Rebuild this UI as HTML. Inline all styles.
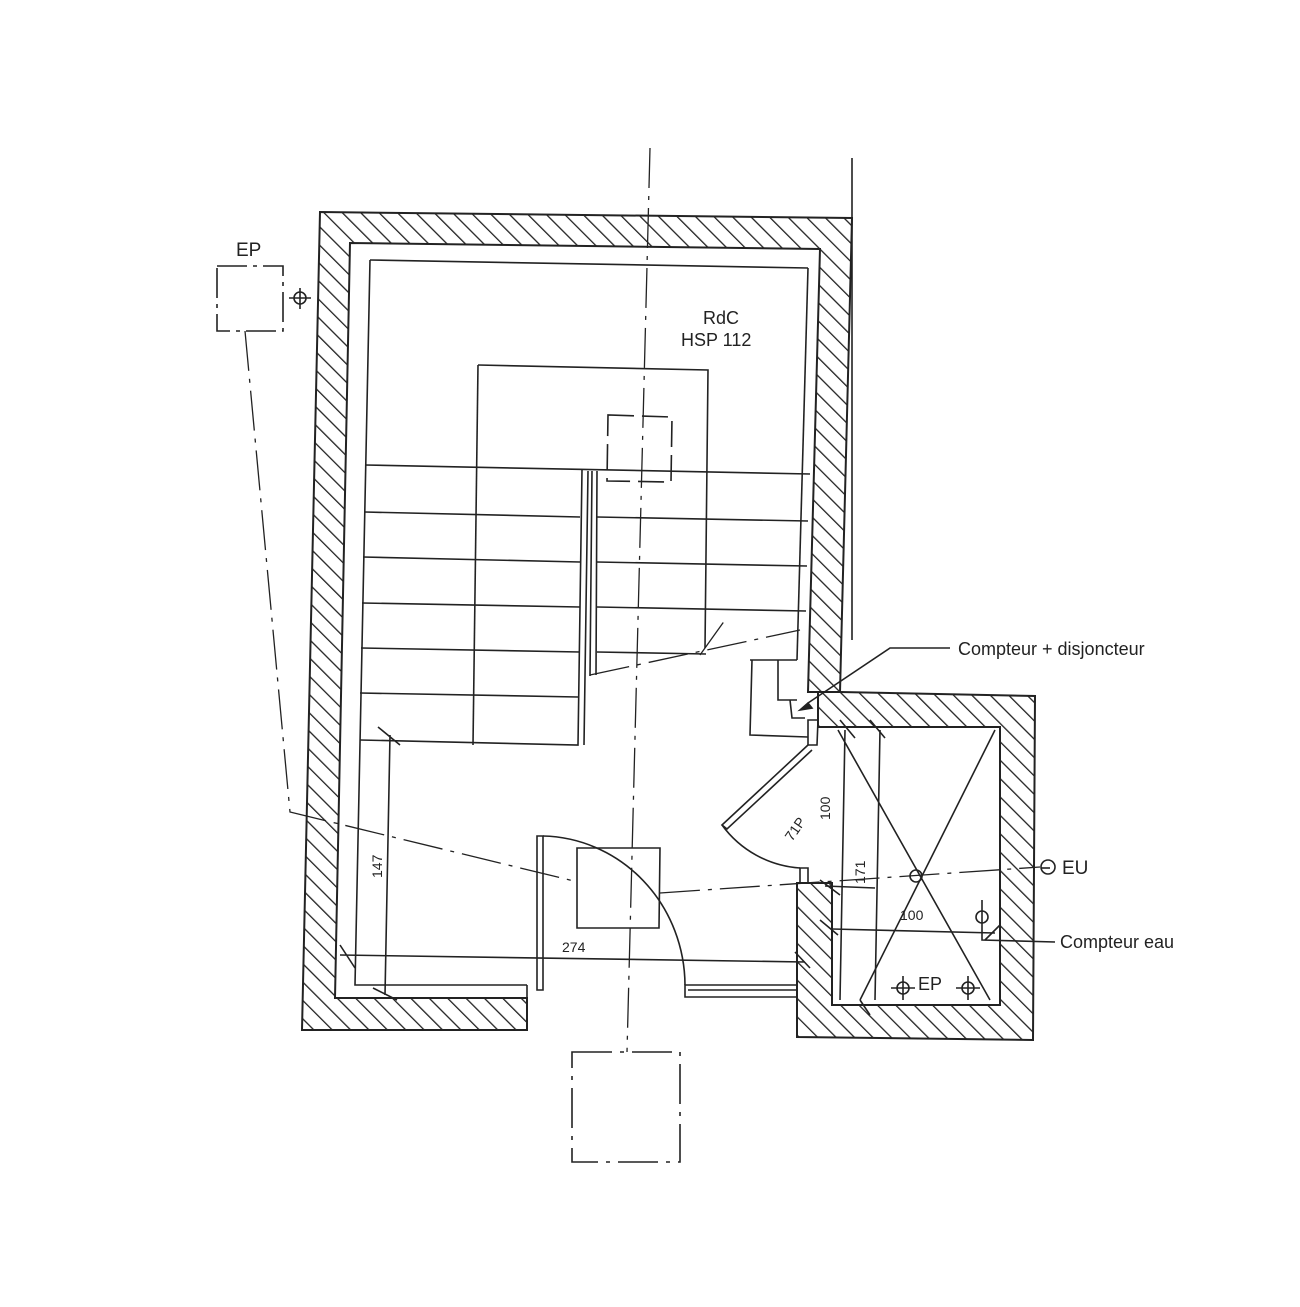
<!DOCTYPE html>
<html><head><meta charset="utf-8"><style>
html,body{margin:0;padding:0;background:#fff}
svg{display:block}
text{font-family:"Liberation Sans",Arial,sans-serif;fill:#222}
</style></head><body>
<svg width="1300" height="1307" viewBox="0 0 1300 1307" xmlns="http://www.w3.org/2000/svg">
<defs>
<pattern id="h" patternUnits="userSpaceOnUse" width="13" height="13" patternTransform="rotate(-45)">
<line x1="0" y1="0" x2="0" y2="13" stroke="#222" stroke-width="2.6"/>
</pattern>
</defs>
<g stroke="#222" stroke-width="1.6" fill="none">
<path d="M320,212 L852,218 L840,692 L808,692 L820,249 L350,243 L335,998 L527,998 L527,1030 L302,1030 Z" fill="url(#h)" stroke-width="2"/>
<path d="M840,692 L1035,696 L1033,1040 L797,1037 L797,883 L832,883 L832,1005 L1000,1005 L1000,727 L832,727 L818,727 L818,692 Z" fill="url(#h)" stroke-width="2"/>
<path d="M370,260 L808,268"/>
<path d="M370,260 L355,985 L527,985"/>
<path d="M808,268 L797,660"/>
<path d="M527,985 L527,998 M537,836 L543,836 L543,990 L537,990 Z"/>
<path d="M543,836 A145,150 0 0 1 685,985"/>
<path d="M685,985 L685,997 L797,997 M688,990 L797,990 M685,997 L685,985 L797,985"/>
<path d="M478,365 L708,370 L705,648"/>
<path d="M478,365 L473,745"/>
<path d="M365,465 L810,474"/>
<path d="M365,512 L580,517 M597,517 L808,521"/>
<path d="M363,557 L580,562 M597,562 L807,566"/>
<path d="M362,603 L580,607 M597,607 L806,611"/>
<path d="M361,648 L580,652 M597,652 L706,654"/>
<path d="M360,693 L578,697"/>
<path d="M360,740 L578,745 L582,470 M588,471 L584,745 M592,471 L590,676 M597,471 L596,675"/>
<path d="M750,660 L797,660 M752,660 L750,735 L808,737 M778,660 L778,700 L797,700 M790,700 L792,718 L805,718"/>
<path d="M808,720 L818,720 L817,745 L808,745 Z"/>
<path d="M808,745 L722,825 L727,829 L812,750"/>
<path d="M722,825 A105,105 0 0 0 800,868"/>
<path d="M800,868 L808,868 L808,883 L800,883 Z"/>
<path d="M838,730 L990,1000 M995,730 L860,1000"/>
<path d="M845,730 L840,1000 M880,730 L875,1000"/>
<circle cx="916" cy="876" r="6"/>
<circle cx="982" cy="917" r="6"/>
<path d="M982,900 L982,940 L1055,942"/>
<path d="M832,929 L995,933"/>
<path d="M825,886 L875,888"/>
<circle cx="1048" cy="867" r="7"/>
<circle cx="300" cy="298" r="6"/><path d="M300,288 L300,309 M289,298 L311,298"/>
<circle cx="903" cy="988" r="6"/><path d="M903,976 L903,1000 M891,988 L915,988"/>
<circle cx="968" cy="988" r="6"/><path d="M968,976 L968,1000 M956,988 L980,988"/>
<path d="M390,735 L385,995 M378,727 L400,745 M373,988 L397,1000"/>
<path d="M340,955 L805,962 M340,945 L355,968 M795,952 L810,968"/>
<path d="M820,880 L840,895 M820,920 L838,935 M860,1000 L870,1015 M840,720 L855,738 M870,720 L885,738 M985,940 L1000,925"/>
<path d="M950,648 L890,648 L808,703"/>
<path d="M808,703 L800,710 L812,708 Z" fill="#222"/>
<path d="M1050,868 L1041,868"/>
<path d="M852,158 L852,640"/>
<path d="M217,266 L283,266 L283,331 L217,331 Z" stroke-dasharray="30,6,4,6"/>
<path d="M608,415 L672,417 L671,482 L607,481 Z" stroke-dasharray="26,8"/>
<path d="M577,848 L660,848 L659,928 L577,928 Z"/>
<path d="M572,1052 L680,1052 L680,1162 L572,1162 Z" stroke-dasharray="40,8,4,8"/>
<g stroke-dasharray="40,8,4,8" stroke-width="1.3">
<path d="M650,148 L627,1052"/>
<path d="M245,331 L290,812 L578,882"/>
<path d="M660,893 L1040,867"/>
<path d="M590,675 L800,630"/>
<path d="M700,655 L725,620"/>
</g>
</g>
<text x="236" y="256" font-size="19">EP</text>
<text x="703" y="324" font-size="18">RdC</text>
<text x="681" y="346" font-size="18">HSP 112</text>
<text x="958" y="655" font-size="18">Compteur + disjoncteur</text>
<text x="1060" y="948" font-size="18">Compteur eau</text>
<text x="1062" y="874" font-size="19">EU</text>
<text x="918" y="990" font-size="18">EP</text>
<text x="900" y="920" font-size="14">100</text>
<text x="562" y="952" font-size="14">274</text>
<text transform="translate(382,878) rotate(-90)" font-size="14">147</text>
<text transform="translate(865,884) rotate(-90)" font-size="14">171</text>
<text transform="translate(830,820) rotate(-90)" font-size="14">100</text>
<text transform="translate(792,842) rotate(-55)" font-size="14">71P</text>
</svg>
</body></html>
